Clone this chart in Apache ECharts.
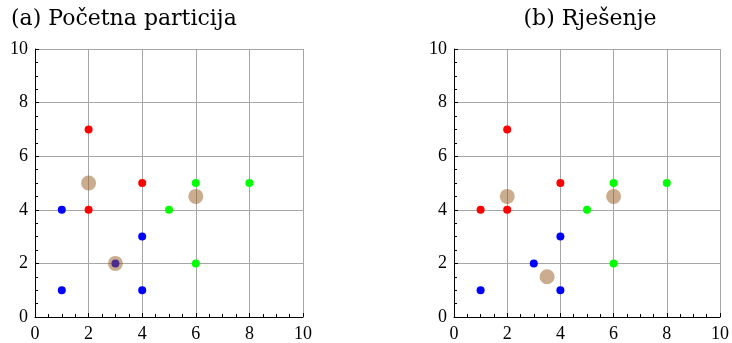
<!DOCTYPE html>
<html>
<head>
<meta charset="utf-8">
<script src="https://cdn.jsdelivr.net/npm/echarts@6/dist/echarts.min.js"></script>
<style>
  html, body { margin: 0; padding: 0; background: #fff; }
  #chart { width: 732px; height: 343px; }
</style>
</head>
<body>
<div id="chart"></div>
<script>
// Podaci: (a) početna particija
const redA = [[2, 7], [4, 5], [2, 4]];
const blueA = [[1, 4], [4, 3], [3, 2], [1, 1], [4, 1]];
const greenA = [[6, 5], [8, 5], [5, 4], [6, 2]];
const centA = [[2, 5], [6, 4.5], [3, 2]];

// Podaci: (b) rješenje
const redB = [[2, 7], [4, 5], [1, 4], [2, 4]];
const blueB = [[4, 3], [3, 2], [1, 1], [4, 1]];
const greenB = [[6, 5], [8, 5], [5, 4], [6, 2]];
const centB = [[2, 4.5], [6, 4.5], [3.5, 1.5]];

const titles = ["(a) Početna particija", "(b) Rješenje"];

const FONT = "'Liberation Serif', 'DejaVu Serif', serif";
const TITLE_FONT = "'DejaVu Serif', serif";

function makeAxis(idx, margin) {
  return {
    gridIndex: idx,
    type: "value",
    min: 0,
    max: 10,
    interval: 2,
    axisLine: { show: true, lineStyle: { color: "#000", width: 1 } },
    axisTick: { show: true, inside: true, length: 4, lineStyle: { color: "#000" } },
    minorTick: { show: true, splitNumber: 4, length: 3, lineStyle: { color: "#000" } },
    splitLine: { show: true, lineStyle: { color: "#a6a6a6", width: 1 } },
    axisLabel: { color: "#000", fontFamily: FONT, fontSize: 18, margin: margin },
  };
}

function dots(data, color, idx) {
  return {
    type: "scatter",
    xAxisIndex: idx,
    yAxisIndex: idx,
    data: data,
    symbolSize: 8,
    itemStyle: { color: color, opacity: 1 },
    z: 2,
  };
}

// centroidi - poluprozirni, iznad točaka
function centroids(data, idx) {
  return {
    type: "scatter",
    xAxisIndex: idx,
    yAxisIndex: idx,
    data: data,
    symbolSize: 15,
    itemStyle: { color: "rgb(150,90,30)", opacity: 0.5 },
    z: 3,
  };
}

const chart = echarts.init(document.getElementById("chart"));

const titleStyle = { fontFamily: TITLE_FONT, fontSize: 22, fontWeight: "normal", color: "#000" };

chart.setOption({
  animation: false,
  title: [
    { text: titles[0], left: 6, top: 3, textStyle: titleStyle },
    { text: titles[1], left: 585, top: 3, textAlign: "center", textStyle: titleStyle },
  ],
  grid: [
    { left: 35, top: 49, width: 268, height: 269 },
    { left: 454, top: 49, width: 268, height: 269 },
  ],
  xAxis: [makeAxis(0, 8), makeAxis(1, 8)],
  yAxis: [makeAxis(0, 7), makeAxis(1, 7)],
  series: [
    dots(redA, "#ff0000", 0),
    dots(blueA, "#0000ff", 0),
    dots(greenA, "#00ff00", 0),
    centroids(centA, 0),
    dots(redB, "#ff0000", 1),
    dots(blueB, "#0000ff", 1),
    dots(greenB, "#00ff00", 1),
    centroids(centB, 1),
  ],
});
</script>
</body>
</html>
